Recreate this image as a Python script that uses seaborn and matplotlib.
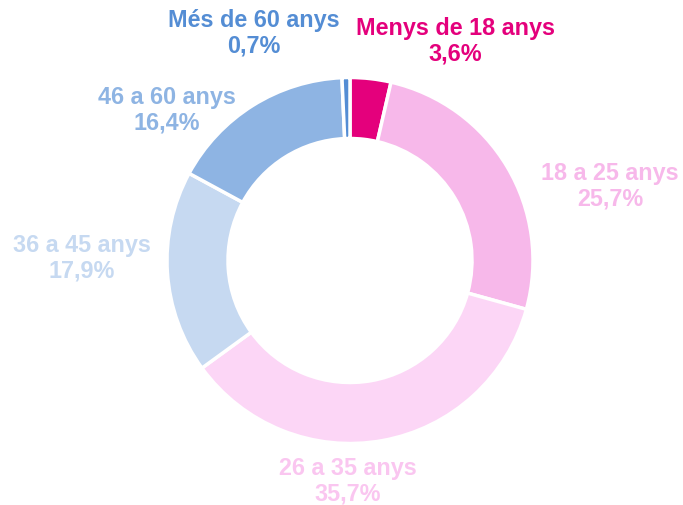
import matplotlib
matplotlib.use("Agg")
import matplotlib.pyplot as plt
import seaborn as sns

categories = ["Menys de 18 anys", "18 a 25 anys", "26 a 35 anys",
              "36 a 45 anys", "46 a 60 anys", "Més de 60 anys"]
values = [3.6, 25.7, 35.7, 17.9, 16.4, 0.7]
value_labels = ["3,6%", "25,7%", "35,7%", "17,9%", "16,4%", "0,7%"]

colors = ["#E4007C", "#F7B8EA", "#FCD6F6", "#C6D9F1", "#8EB4E3", "#548DD4"]
label_colors = ["#E4007C", "#F7B8EA", "#FAC6F0", "#C6D9F1", "#8EB4E3", "#548DD4"]
# label centre positions in pixels (x, y from top)
label_pos = [(455, 41), (610, 186), (348, 481), (82, 258), (167, 110), (254, 33)]

sns.set_theme(style="white")
plt.rcParams["font.family"] = ["Liberation Sans", "DejaVu Sans"]

W, H = 683, 506
fig = plt.figure(figsize=(W / 100, H / 100), dpi=100)
ax = fig.add_axes([0, 0, 1, 1])

cx, cy, R = 350, 261.5, 183
ax.pie(values, colors=colors, startangle=90, counterclock=False,
       center=(cx, H - cy), radius=R, frame=True,
       wedgeprops=dict(width=61, edgecolor="white", linewidth=2.5))
ax.set_xlim(0, W)
ax.set_ylim(0, H)
ax.set_aspect("equal")
ax.axis("off")

for cat, vl, col, (x, y) in zip(categories, value_labels, label_colors, label_pos):
    ax.text(x, H - y, f"{cat}\n{vl}", ha="center", va="center", color=col,
            fontsize=16.8, fontweight="bold", linespacing=1.12)

fig.savefig("out.png", dpi=100)
